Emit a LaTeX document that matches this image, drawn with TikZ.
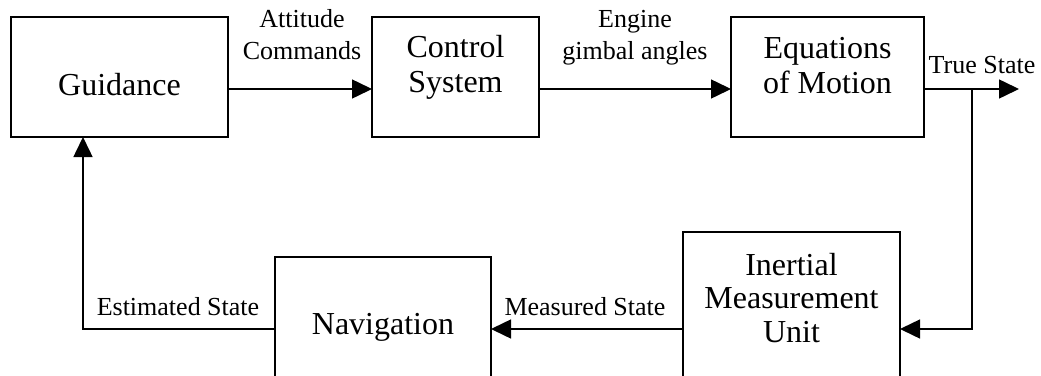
\documentclass[tikz,border=0pt]{standalone}
\usepackage{fontspec}
\setmainfont{Liberation Serif}
\usetikzlibrary{arrows.meta}
\newcommand{\bt}[2]{\makebox[0pt]{\raisebox{#1}[0pt][0pt]{\begin{tabular}[t]{@{}c@{}}#2\end{tabular}}}}
\tikzset{
  blk/.style={draw, line width=1.5pt, inner sep=0pt, outer sep=0pt, font=\fontsize{32}{35}\selectfont},
  lbl/.style={inner sep=0pt, outer sep=0pt, font=\fontsize{26}{32}\selectfont},
  conn/.style={line width=1.5pt, -{Triangle[length=20pt,width=19pt]}}
}
\begin{document}
\begin{tikzpicture}[x=1pt,y=-1pt]
\useasboundingbox (0,0) rectangle (1041,375);
% blocks
\node[blk, minimum width=217pt, minimum height=120pt] (guid) at (119.5,77) {\bt{-18pt}{Guidance}};
\node[blk, minimum width=167pt, minimum height=120pt] (ctrl) at (455.5,77) {\bt{20pt}{Control\\System}};
\node[blk, minimum width=193pt, minimum height=120pt] (eom) at (827.5,77) {\bt{19pt}{Equations\\of Motion}};
\node[blk, minimum width=217pt, minimum height=168pt, font=\fontsize{32}{33.5}\selectfont] (imu) at (791.5,316) {\bt{41pt}{Inertial\\Measurement\\Unit}};
\node[blk, minimum width=216pt, minimum height=143pt] (nav) at (383,328.5) {\bt{-5.5pt}{Navigation}};
% helper coordinates
\coordinate (r1) at (0,89);
\coordinate (r2) at (0,329);
\coordinate (jn) at (972,89);
\coordinate (tip) at (1019,89);
\coordinate (gx) at (83,0);
% connectors
\draw[conn] (guid.east |- r1) -- (ctrl.west |- r1);
\draw[conn] (ctrl.east |- r1) -- (eom.west |- r1);
\draw[conn] (eom.east |- r1) -- (tip);
\draw[conn] (jn) |- (imu.east |- r2);
\draw[conn] (imu.west |- r2) -- (nav.east |- r2);
\draw[conn] (nav.west |- r2) -| (guid.south -| gx);
% labels
\node[lbl] (latt) at (302,27) {\bt{0pt}{Attitude\\Commands}};
\node[lbl] (leng) at (635,27) {\bt{0pt}{Engine\\gimbal angles}};
\node[lbl] (ltrue) at (982,73) {\bt{0pt}{True State}};
\node[lbl] (lest) at (178,315) {\bt{0pt}{Estimated State}};
\node[lbl] (lmeas) at (585,315) {\bt{0pt}{Measured State}};
\end{tikzpicture}
\end{document}
